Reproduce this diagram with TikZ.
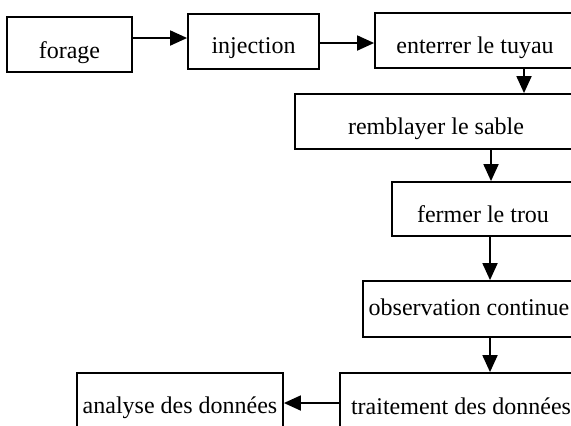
\documentclass[tikz,border=0pt]{standalone}
\usepackage{fontspec}
\setmainfont{Liberation Serif}
\usetikzlibrary{arrows.meta}
\begin{document}
\begin{tikzpicture}[x=0.5pt,y=-0.5pt,
  box/.style={draw, line width=0.9pt, inner sep=0pt, font=\fontsize{12pt}{14pt}\selectfont, text depth=0pt},
  arr/.style={line width=0.9pt, -{Triangle[length=8.5pt,width=7.5pt]}}]
\path[use as bounding box, clip] (0,0) rectangle (571,425);
\node[box, minimum width=62.5pt, minimum height=27.5pt, text height=13.5pt] (forage) at (69.5,44.5) {forage};
\node[box, minimum width=65.5pt, minimum height=27.5pt, text height=11.5pt] (injection) at (253.5,41.5) {injection};
\node[box, minimum width=100pt, minimum height=27.5pt, text height=12.5pt] (enterrer) at (475,40.5) {enterrer le tuyau};
\node[box, minimum width=141pt, minimum height=27.5pt, text height=12.5pt] (remblayer) at (436,121.5) {remblayer le sable};
\node[box, minimum width=91pt, minimum height=27pt, text height=13pt] (fermer) at (483,209) {fermer le trou};
\node[box, minimum width=106pt, minimum height=28pt, text height=6pt] (observation) at (469,309) {observation continue};
\node[box, minimum width=121pt, minimum height=31pt, text height=10pt] (traitement) at (461,404) {traitement des données};
\node[box, minimum width=103pt, minimum height=31pt, text height=9pt] (analyse) at (180,404) {analyse des données};
\coordinate (r1) at (0,38);
\coordinate (r2) at (0,43);
\coordinate (c3) at (524,0);
\coordinate (c4) at (491,0);
\coordinate (c5) at (490,0);
\coordinate (r7) at (0,403);
\draw[arr] (forage.east |- r1) -- (injection.west |- r1);
\draw[arr] (injection.east |- r2) -- (enterrer.west |- r2);
\draw[arr] (enterrer.south -| c3) -- (remblayer.north -| c3);
\draw[arr] (remblayer.south -| c4) -- (fermer.north -| c4);
\draw[arr] (fermer.south -| c5) -- (observation.north -| c5);
\draw[arr] (observation.south -| c5) -- (traitement.north -| c5);
\draw[arr] (traitement.west |- r7) -- (analyse.east |- r7);
\end{tikzpicture}
\end{document}
